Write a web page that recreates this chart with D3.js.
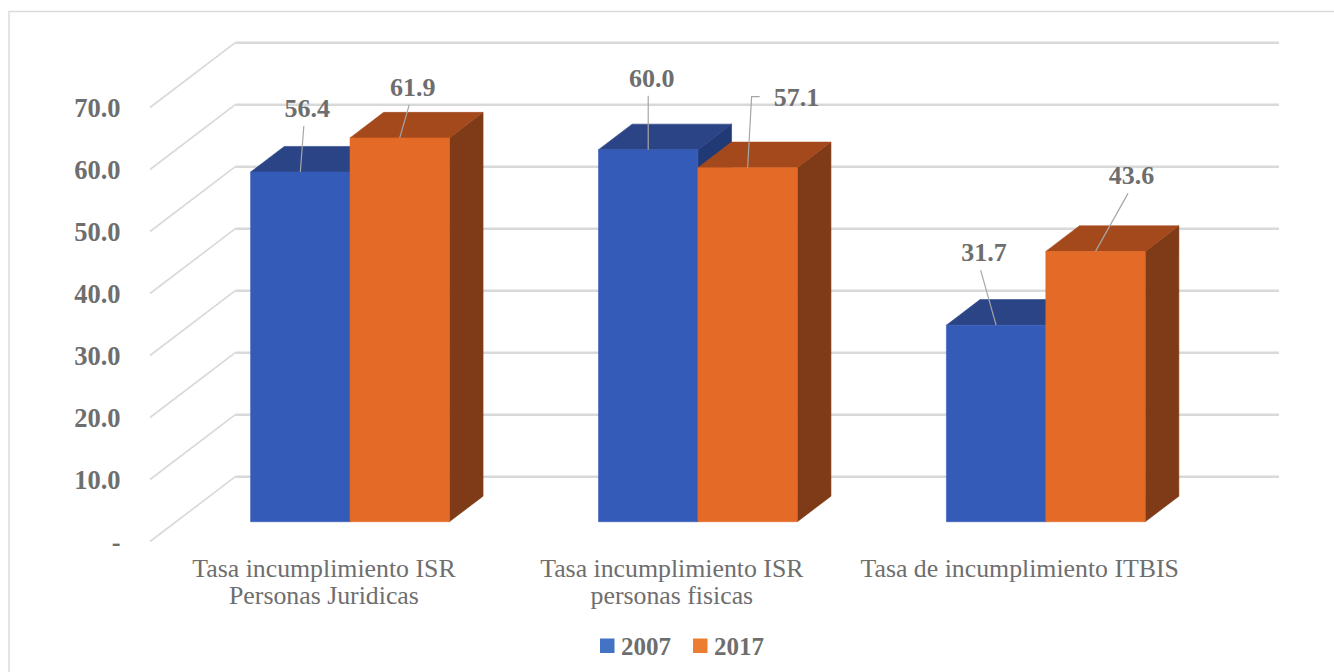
<!DOCTYPE html>
<html>
<head>
<meta charset="utf-8">
<script src="https://cdn.jsdelivr.net/npm/d3@7"></script>
<style>
  html, body { margin: 0; padding: 0; background: #ffffff; }
  svg { display: block; }
</style>
</head>
<body>
<svg id="chart" width="1334" height="672"></svg>
<script>
// Data
const categories = [
  ["Tasa incumplimiento ISR", "Personas Juridicas"],
  ["Tasa incumplimiento ISR", "personas fisicas"],
  ["Tasa de incumplimiento ITBIS"]
];
const seriesNames = ["2007", "2017"];
const values2007 = [56.4, 60.0, 31.7];
const values2017 = [61.9, 57.1, 43.6];
const tickValues = [0, 10, 20, 30, 40, 50, 60, 70];

// Colours: front / top / side shading per series, legend swatches
const faceColors = [
  { front: "#355bb8", top: "#2a4485", side: "#213a75", legend: "#4472c4" },
  { front: "#e46a27", top: "#a4491c", side: "#7f3b17", legend: "#ed7d31" }
];
const textColor = "#6e6e6e";
const gridColor = "#d9d9d9";

// Label placement relative to the top-centre of each bar's front face
// [series][category] -> [dx, dy, leaderStyle]
const labelOffsets = [
  [[7, -64, "straight"], [3.5, -72, "straight"], [-12, -73, "straight"]],
  [[13, -51, "straight"], [49, -71, "elbow"], [36, -76, "straight"]]
];

// Oblique 3D geometry
const DX = 85.3, DY = 64.8;          // projection of full floor depth
const zFront = 0.3056, zBack = 0.70; // bar depth span within floor
const floorLeft = 150, floorRight = 1193.7;

const svg = d3.select("#chart");
const y = d3.scaleLinear().domain([0, 70]).range([541.5, 541.5 - 434]);
const xBand = d3.scaleBand().domain(d3.range(categories.length))
  .range([floorLeft, floorRight]).paddingInner(0).paddingOuter(0);
const xSeries = d3.scaleBand().domain(d3.range(seriesNames.length))
  .range([0, xBand.bandwidth()]).paddingInner(0).paddingOuter(0.75);

const P = (x, v, z) => [x + z * DX, y(v) - z * DY];
const poly = pts => pts.map(p => p.join(",")).join(" ");

// Outer frame
svg.append("rect")
  .attr("x", 9).attr("y", 11.5).attr("width", 1400).attr("height", 700)
  .attr("fill", "none").attr("stroke", "#dcdcdc").attr("stroke-width", 1.5);

// Back wall and side wall gridlines
const grid = svg.append("g");
tickValues.forEach(t => {
  const a = P(floorLeft, t, 0), b = P(floorLeft, t, 1), c = P(floorRight, t, 1);
  grid.append("line")
    .attr("x1", a[0]).attr("y1", a[1]).attr("x2", b[0]).attr("y2", b[1])
    .attr("stroke", gridColor).attr("stroke-width", 1.6);
  grid.append("line")
    .attr("x1", b[0]).attr("y1", b[1]).attr("x2", c[0]).attr("y2", c[1])
    .attr("stroke", gridColor).attr("stroke-width", 2.6);
});

// Value axis labels
const fmt = d3.format(".1f");
svg.append("g").selectAll("text").data(tickValues).join("text")
  .attr("x", 120.5)
  .attr("y", d => y(d) + 9)
  .attr("text-anchor", "end")
  .attr("font-family", "'Liberation Serif', serif")
  .attr("font-weight", "bold")
  .attr("font-size", 26.5)
  .attr("fill", textColor)
  .text(d => d === 0 ? "-" : fmt(d));

// Bars
const seriesValues = [values2007, values2017];
const bars = svg.append("g");
categories.forEach((cat, ci) => {
  seriesValues.forEach((vals, si) => {
    const v = vals[ci];
    const x0 = xBand(ci) + xSeries(si);
    const x1 = x0 + xSeries.bandwidth();
    const col = faceColors[si];
    const g = bars.append("g");
    g.append("polygon")
      .attr("points", poly([P(x1, 0, zFront), P(x1, 0, zBack), P(x1, v, zBack), P(x1, v, zFront)]))
      .attr("fill", col.side).attr("stroke", col.side).attr("stroke-width", 0.6);
    g.append("polygon")
      .attr("points", poly([P(x0, v, zFront), P(x1, v, zFront), P(x1, v, zBack), P(x0, v, zBack)]))
      .attr("fill", col.top).attr("stroke", col.top).attr("stroke-width", 0.6);
    g.append("polygon")
      .attr("points", poly([P(x0, 0, zFront), P(x1, 0, zFront), P(x1, v, zFront), P(x0, v, zFront)]))
      .attr("fill", col.front).attr("stroke", col.front).attr("stroke-width", 0.6);
  });
});

// Data labels with leader lines
const labels = svg.append("g");
categories.forEach((cat, ci) => {
  seriesValues.forEach((vals, si) => {
    const v = vals[ci];
    const x0 = xBand(ci) + xSeries(si);
    const anchor = P(x0 + xSeries.bandwidth() / 2, v, zFront);
    const [dx, dy, style] = labelOffsets[si][ci];
    const lx = anchor[0] + dx, ly = anchor[1] + dy;
    let pts;
    if (style === "elbow") {
      pts = [anchor, [anchor[0] + 4, ly], [lx - 37, ly]];
    } else {
      pts = [anchor, [lx - 3.5, ly + 18]];
    }
    labels.append("polyline")
      .attr("points", poly(pts))
      .attr("fill", "none").attr("stroke", "#a6a6a6").attr("stroke-width", 1.2);
    labels.append("text")
      .attr("x", lx).attr("y", ly + 9)
      .attr("text-anchor", "middle")
      .attr("font-family", "'Liberation Serif', serif")
      .attr("font-weight", "bold")
      .attr("font-size", 26)
      .attr("fill", textColor)
      .text(fmt(v));
  });
});

// Category axis labels
const catG = svg.append("g");
categories.forEach((lines, ci) => {
  const cx = xBand(ci) + xBand.bandwidth() / 2;
  const t = catG.append("text")
    .attr("text-anchor", "middle")
    .attr("font-family", "'Liberation Serif', serif")
    .attr("font-size", 25.8)
    .attr("fill", textColor);
  lines.forEach((line, li) => {
    t.append("tspan").attr("x", cx).attr("y", 577 + li * 27).text(line);
  });
});

// Legend
const legend = svg.append("g");
const legendX = [600, 693];
seriesNames.forEach((name, si) => {
  legend.append("rect")
    .attr("x", legendX[si]).attr("y", 638.5).attr("width", 14.5).attr("height", 14.5)
    .attr("fill", faceColors[si].legend);
  legend.append("text")
    .attr("x", legendX[si] + 21).attr("y", 655)
    .attr("font-family", "'Liberation Serif', serif")
    .attr("font-weight", "bold")
    .attr("font-size", 25)
    .attr("fill", textColor)
    .text(name);
});
</script>
</body>
</html>
